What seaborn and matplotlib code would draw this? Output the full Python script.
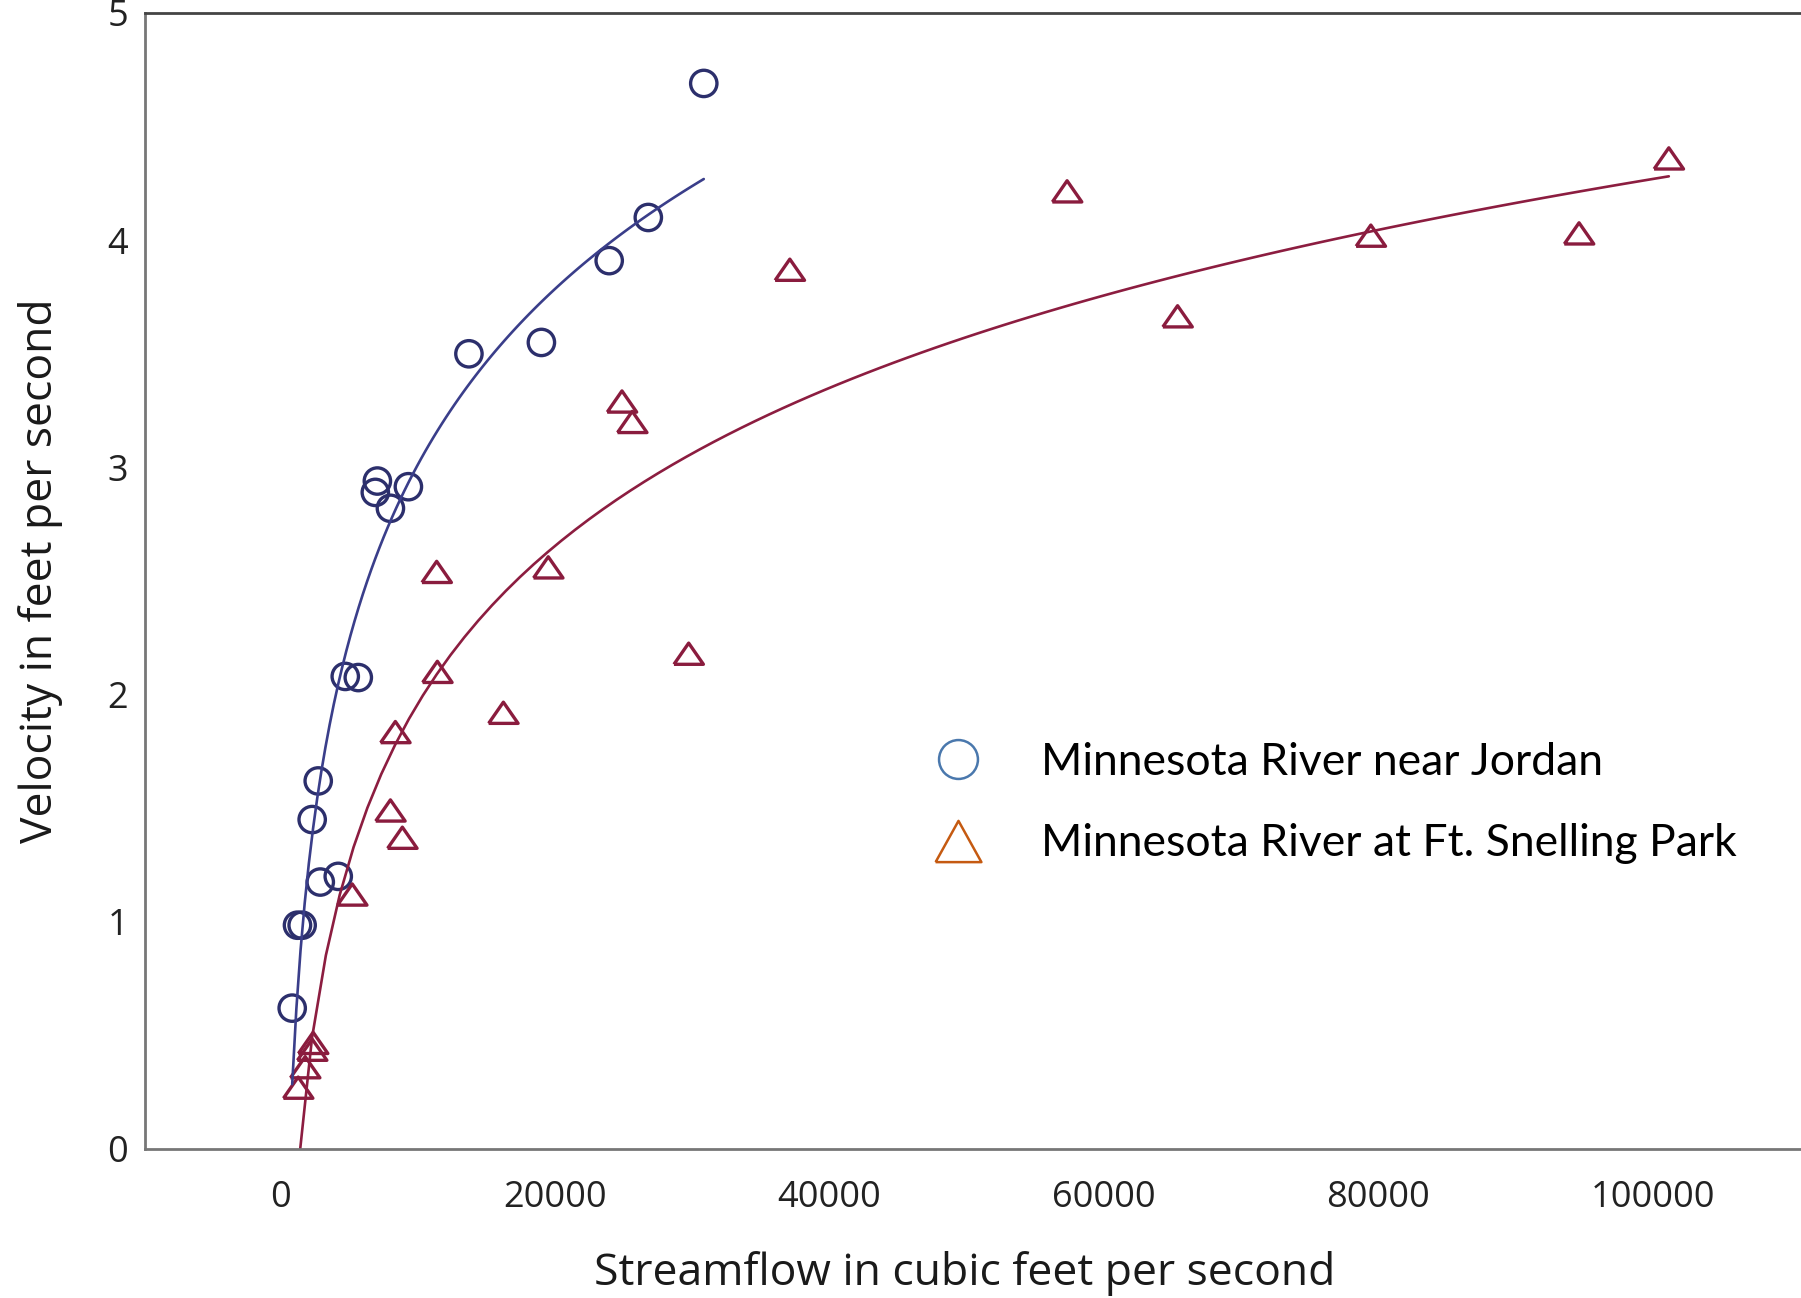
import numpy as np
import pandas as pd
import seaborn as sns
import matplotlib
matplotlib.use("Agg")
import matplotlib.pyplot as plt
from matplotlib.lines import Line2D
from matplotlib.ticker import MultipleLocator

# ---- data ----
jordan_flow = [30860, 26820, 23970, 19030, 13750, 7080, 6930, 8030, 9340,
               4740, 5690, 2770, 2330, 2920, 4230, 1260, 1600, 875]
jordan_vel = [4.69, 4.10, 3.91, 3.55, 3.50, 2.94, 2.89, 2.82, 2.915,
              2.08, 2.075, 1.62, 1.45, 1.175, 1.20, 0.985, 0.985, 0.62]

snelling_flow = [101170, 57330, 79460, 94630, 37130, 65380, 24900, 25650,
                 11400, 19530, 29760, 11450, 16260, 8390, 8030, 8900, 5250,
                 2400, 2330, 1820, 1310]
snelling_vel = [4.36, 4.215, 4.02, 4.03, 3.87, 3.665, 3.29, 3.20,
                2.54, 2.56, 2.18, 2.10, 1.92, 1.835, 1.49, 1.37, 1.12,
                0.467, 0.437, 0.36, 0.27]

series_names = ["Minnesota River near Jordan", "Minnesota River at Ft. Snelling Park"]
x_ticks = [0, 20000, 40000, 60000, 80000, 100000]
y_ticks = [0, 1, 2, 3, 4, 5]

df_j = pd.DataFrame({"flow": jordan_flow, "vel": jordan_vel})
df_s = pd.DataFrame({"flow": snelling_flow, "vel": snelling_vel})

# ---- style ----
sns.set_theme(style="white")
plt.rcParams["font.family"] = ["Open Sans", "DejaVu Sans"]

blue_pt = "#2c2f6c"
blue_ln = "#3a3e8a"
red_pt = "#8a1c3e"
red_ln = "#8c1d40"

fig = plt.figure(figsize=(18.01, 12.98), dpi=100)
ax = fig.add_axes([145 / 1801, 1 - 1149 / 1298, 1 - 145 / 1801, (1149 - 13) / 1298])

tri = [(-1, -0.72), (1, -0.72), (0, 0.72), (-1, -0.72)]

# fitted log curves
sns.regplot(data=df_j, x="flow", y="vel", logx=True, ci=None, scatter=False,
            truncate=True, ax=ax, line_kws={"color": blue_ln, "lw": 1.9})
sns.regplot(data=df_s, x="flow", y="vel", logx=True, ci=None, scatter=False,
            truncate=True, ax=ax, line_kws={"color": red_ln, "lw": 1.9})

# points
sns.scatterplot(data=df_j, x="flow", y="vel", marker="o", s=360,
                facecolors="none", edgecolor=blue_pt, linewidth=2.4, ax=ax)
sns.scatterplot(data=df_s, x="flow", y="vel", marker=tri, s=450,
                facecolors="none", edgecolor=red_pt, linewidth=2.4, ax=ax)

ax.set_xlim(-9850, 110800)
ax.set_ylim(0, 5)

ax.xaxis.set_major_locator(plt.FixedLocator(x_ticks))
ax.xaxis.set_minor_locator(MultipleLocator(10000))
ax.yaxis.set_major_locator(plt.FixedLocator(y_ticks))
ax.yaxis.set_minor_locator(MultipleLocator(0.5))
ax.set_xticklabels([str(v) for v in x_ticks])
ax.set_yticklabels([str(v) for v in y_ticks])

ax.tick_params(axis="x", which="major", direction="in", length=20, width=1.2,
               color="#888888", labelsize=26, labelcolor="#222222", pad=22)
ax.tick_params(axis="x", which="minor", direction="in", length=7, width=1.2,
               color="#888888")
ax.tick_params(axis="y", which="major", direction="in", length=13, width=1.2,
               color="#888888", labelsize=26, labelcolor="#222222", pad=12)
ax.tick_params(axis="y", which="minor", direction="in", length=13, width=1.2,
               color="#888888")

for side in ["left", "bottom"]:
    ax.spines[side].set_color("#777777")
    ax.spines[side].set_linewidth(2)
ax.spines["top"].set_color("#444444")
ax.spines["top"].set_linewidth(2)
ax.spines["right"].set_visible(False)

ax.set_xlabel("Streamflow in cubic feet per second", fontsize=32, color="#1a1a1a")
ax.set_ylabel("Velocity in feet per second", fontsize=32, color="#1a1a1a")
ax.xaxis.set_label_coords(965 / 1801, 1 - 1251 / 1298, transform=fig.transFigure)
ax.yaxis.set_label_coords(63 / 1801, 1 - 571 / 1298, transform=fig.transFigure)

leg_tri = [(-1, -0.9), (1, -0.9), (0, 0.9), (-1, -0.9)]
handles = [
    Line2D([], [], ls="none", marker="o", markersize=28, mfc="none",
           mec="#4a78ad", mew=1.8),
    Line2D([], [], ls="none", marker=leg_tri, markersize=33, mfc="none",
           mec="#c55a11", mew=1.8),
]
leg = ax.legend(handles, series_names, loc="center left",
                bbox_to_anchor=(914 / 1801, 1 - 803 / 1298),
                bbox_transform=fig.transFigure, frameon=False,
                prop={"family": ["Lato", "DejaVu Sans"], "size": 32},
                handletextpad=1.36, labelspacing=0.92, borderpad=0,
                handlelength=1.0)
for t in leg.get_texts():
    t.set_color("black")

fig.savefig("out.png", dpi=100)
